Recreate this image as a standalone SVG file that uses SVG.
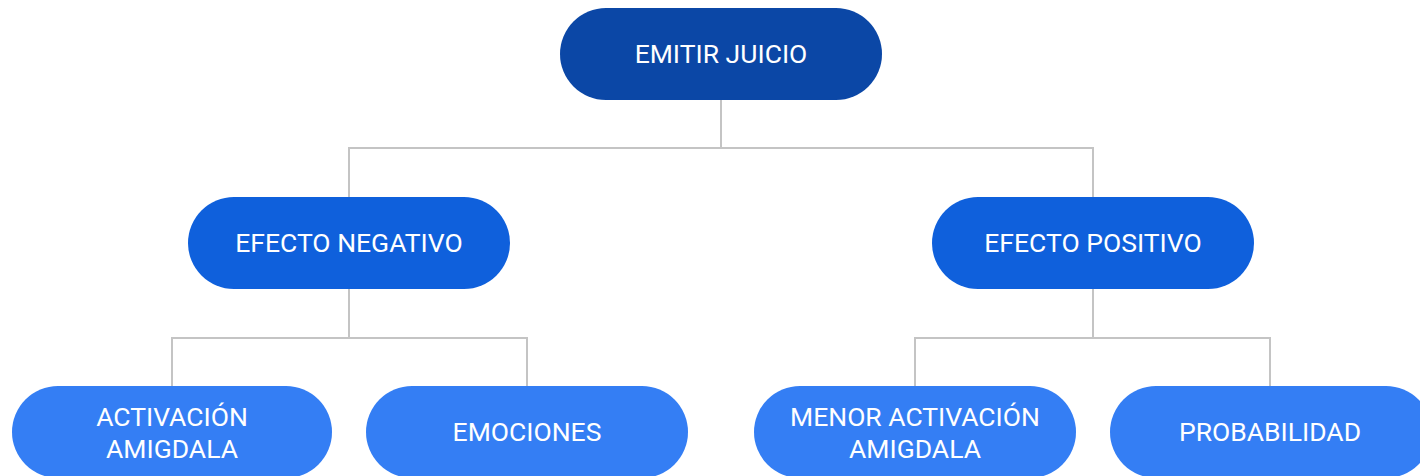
<svg xmlns="http://www.w3.org/2000/svg" width="1420" height="476" viewBox="0 0 1420 476">
<style>
.l1{fill:#0b47a6}
.l2{fill:#0f60dc}
.l3{fill:#347ef4}
.t{font-family:Roboto,"Liberation Sans",sans-serif;font-size:26.5px;fill:#ffffff;text-anchor:middle}
.c{fill:none;stroke:#c4c4c4;stroke-width:2}
</style>
<rect width="1420" height="476" fill="#ffffff"/>
<g id="connectors">
<path class="c" d="M721 100V148M349 197V148H1093V197"/>
<path class="c" d="M349 289V338M172 386V338H527V386"/>
<path class="c" d="M1093 289V338M915 386V338H1270V386"/>
</g>
<g id="n-emitir"><rect class="l1" x="560" y="8" width="322" height="92" rx="46"/><text class="t" x="721" y="63">EMITIR JUICIO</text></g>
<g id="n-negativo"><rect class="l2" x="188" y="197" width="322" height="92" rx="46"/><text class="t" x="349" y="252">EFECTO NEGATIVO</text></g>
<g id="n-positivo"><rect class="l2" x="932" y="197" width="322" height="92" rx="46"/><text class="t" x="1093" y="252">EFECTO POSITIVO</text></g>
<g id="n-activacion"><rect class="l3" x="12" y="386" width="320" height="92" rx="46"/><text class="t" x="172" y="426">ACTIVACIÓN</text><text class="t" x="172" y="458">AMIGDALA</text></g>
<g id="n-emociones"><rect class="l3" x="366" y="386" width="322" height="92" rx="46"/><text class="t" x="527" y="441">EMOCIONES</text></g>
<g id="n-menor"><rect class="l3" x="754" y="386" width="322" height="92" rx="46"/><text class="t" x="915" y="426">MENOR ACTIVACIÓN</text><text class="t" x="915" y="458">AMIGDALA</text></g>
<g id="n-probabilidad"><rect class="l3" x="1110" y="386" width="322" height="92" rx="46"/><text class="t" x="1270" y="441">PROBABILIDAD</text></g>
</svg>
